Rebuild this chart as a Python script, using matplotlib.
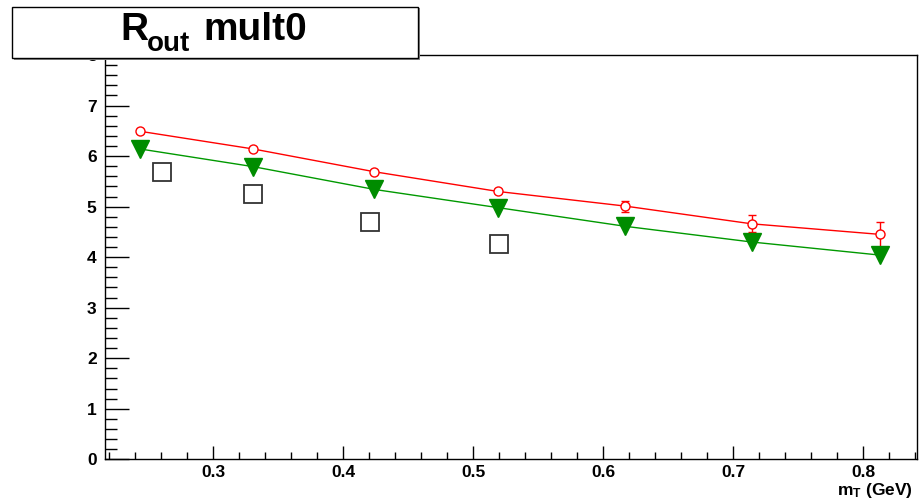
import matplotlib
matplotlib.use("Agg")
import matplotlib.pyplot as plt
from matplotlib.patches import Rectangle
from matplotlib.ticker import MultipleLocator

plt.rcParams['font.family'] = ['Liberation Sans', 'DejaVu Sans']
plt.rcParams['font.weight'] = 'bold'
plt.rcParams['mathtext.fontset'] = 'custom'
plt.rcParams['mathtext.rm'] = 'Liberation Sans:bold'
plt.rcParams['mathtext.it'] = 'Liberation Sans:bold'
plt.rcParams['mathtext.bf'] = 'Liberation Sans:bold'

# data
mt = [0.244, 0.331, 0.424, 0.519, 0.617, 0.714, 0.813]
r_red = [6.49, 6.14, 5.69, 5.30, 5.01, 4.66, 4.45]
r_red_err = [0.03, 0.03, 0.03, 0.04, 0.11, 0.17, 0.25]
r_green = [6.14, 5.79, 5.34, 4.98, 4.61, 4.30, 4.04]
mt_sq = [0.261, 0.331, 0.421, 0.520]
r_sq = [5.68, 5.24, 4.69, 4.26]

W, H = 919, 501
fig = plt.figure(figsize=(W / 100, H / 100), dpi=100)
ax = fig.add_axes([105 / W, (H - 459.3) / H, (916.7 - 105) / W, (459.3 - 55) / H])

ax.plot(mt, r_red, color='#ff0000', lw=1.0, zorder=2)
ax.errorbar(mt, r_red, yerr=r_red_err, fmt='none', ecolor='#ff0000', elinewidth=1.0,
            capsize=3, capthick=1.0, zorder=3)
ax.plot(mt, r_red, ls='none', marker='o', ms=6.5, mfc='white', mec='#ff0000', mew=1.0, zorder=4)

ax.plot(mt, r_green, color='#009900', lw=1.0, zorder=2)
ax.plot(mt, r_green, ls='none', marker='v', ms=13, mfc='#008c00', mec='#008c00', zorder=4)

ax.plot(mt_sq, r_sq, ls='none', marker='s', ms=13, mfc='none', mec='#333333', mew=1.3, zorder=4)

ax.set_xlim(0.2169, 0.841)
ax.set_ylim(0, 8)

ax.xaxis.set_major_locator(MultipleLocator(0.1))
ax.xaxis.set_minor_locator(MultipleLocator(0.02))
ax.yaxis.set_major_locator(MultipleLocator(1))
ax.yaxis.set_minor_locator(MultipleLocator(0.2))

ax.tick_params(axis='x', which='major', direction='in', length=9.5, width=1, pad=4, labelsize=12.5)
ax.tick_params(axis='x', which='minor', direction='in', length=5, width=1)
ax.tick_params(axis='y', which='major', direction='in', length=17, width=1, pad=6, labelsize=12.5)
ax.tick_params(axis='y', which='minor', direction='in', length=8.5, width=1)
ax.tick_params(top=False, right=False, which='both')

ax.set_xticklabels([f"{v:g}" for v in ax.get_xticks()])
for lab in ax.get_xticklabels() + ax.get_yticklabels():
    lab.set_fontweight('bold')

for s in ax.spines.values():
    s.set_linewidth(1.0)
    s.set_color('black')

fig.text(913 / W, (H - 495.5) / H, r"m$_{\rm T}$ (GeV)", ha='right', va='baseline',
         fontsize=12.5, fontweight='bold')

# title box with shadow
shadow = Rectangle((13.5 / W, (H - 59.5) / H), (418.3 - 12.3) / W, (58.3 - 7.3) / H,
                   transform=fig.transFigure, facecolor='#888888', edgecolor='none', zorder=9)
fig.add_artist(shadow)
box = Rectangle((12.3 / W, (H - 58.3) / H), (418.3 - 12.3) / W, (58.3 - 7.3) / H,
                transform=fig.transFigure, facecolor='white', edgecolor='black', lw=1.0, zorder=10)
fig.add_artist(box)
fig.text(134 / W, (H - 40.5) / H, "R", ha='center', va='baseline',
         fontsize=28, fontweight='bold', zorder=11)
fig.text(147 / W, (H - 51) / H, "out", ha='left', va='baseline',
         fontsize=20, fontweight='bold', zorder=11)
fig.text(255.5 / W, (H - 40.5) / H, "mult0", ha='center', va='baseline',
         fontsize=28, fontweight='bold', zorder=11)

fig.savefig("out.png", dpi=100)
